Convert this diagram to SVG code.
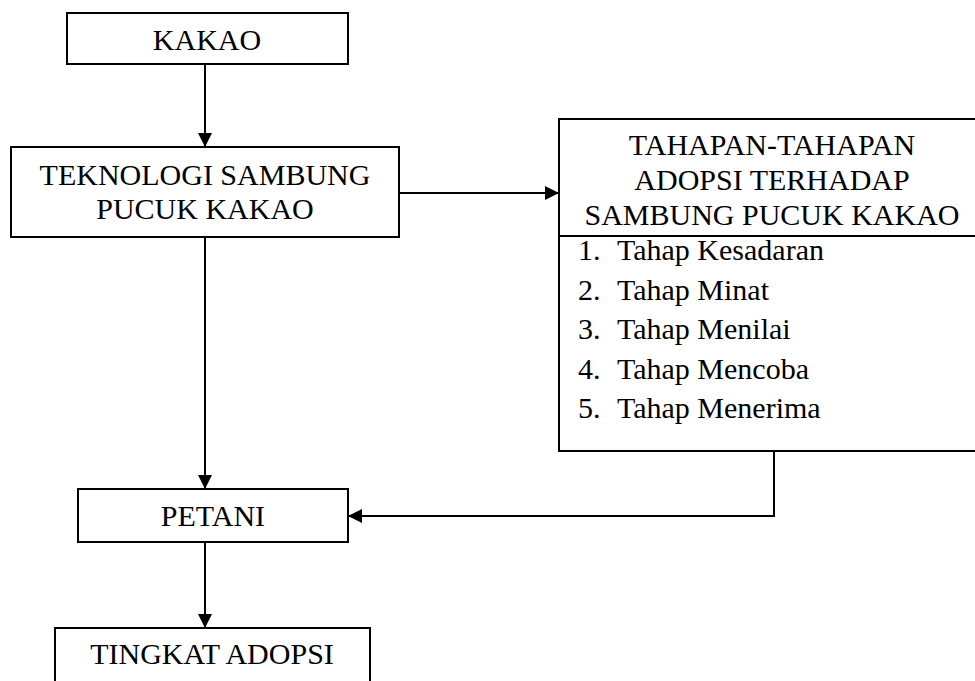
<svg xmlns="http://www.w3.org/2000/svg" width="975" height="681" viewBox="0 0 975 681">
<style>
  .box{fill:#fff;stroke:#000;stroke-width:2}
  .t{font-family:'Liberation Serif','Times New Roman',serif;font-size:30px;fill:#000}
  .c{text-anchor:middle}
  .ln{fill:none;stroke:#000;stroke-width:2}
</style>
<defs>
  <marker id="ah" markerUnits="userSpaceOnUse" markerWidth="16" markerHeight="14" refX="14" refY="7" orient="auto">
    <path d="M0,0 L14,7 L0,14 Z" fill="#000"/>
  </marker>
</defs>
<rect width="975" height="681" fill="#fff"/>
<g id="connectors">
  <line class="ln" x1="205" y1="64" x2="205" y2="147" marker-end="url(#ah)"/>
  <line class="ln" x1="399" y1="193" x2="559" y2="193" marker-end="url(#ah)"/>
  <line class="ln" x1="205" y1="237" x2="205" y2="489" marker-end="url(#ah)"/>
  <polyline class="ln" points="774,451 774,516 348,516" marker-end="url(#ah)"/>
  <line class="ln" x1="205" y1="542" x2="205" y2="628" marker-end="url(#ah)"/>
</g>
<g id="kakao">
  <rect class="box" x="67" y="13" width="281" height="51"/>
  <text class="t c" x="207" y="50">KAKAO</text>
</g>
<g id="teknologi">
  <rect class="box" x="11" y="147" width="388" height="90"/>
  <text class="t c" x="205" y="185">TEKNOLOGI SAMBUNG</text>
  <text class="t c" x="205" y="219">PUCUK KAKAO</text>
</g>
<g id="tahapan">
  <rect class="box" x="559" y="119" width="426" height="332"/>
  <line class="ln" x1="559" y1="236" x2="985" y2="236"/>
  <text class="t c" x="772" y="155">TAHAPAN-TAHAPAN</text>
  <text class="t c" x="772" y="190">ADOPSI TERHADAP</text>
  <text class="t c" x="772" y="225">SAMBUNG PUCUK KAKAO</text>
  <text class="t" x="578" y="260">1.</text><text class="t" x="617" y="260">Tahap Kesadaran</text>
  <text class="t" x="578" y="300">2.</text><text class="t" x="617" y="300">Tahap Minat</text>
  <text class="t" x="578" y="339">3.</text><text class="t" x="617" y="339">Tahap Menilai</text>
  <text class="t" x="578" y="379">4.</text><text class="t" x="617" y="379">Tahap Mencoba</text>
  <text class="t" x="578" y="418">5.</text><text class="t" x="617" y="418">Tahap Menerima</text>
</g>
<g id="petani">
  <rect class="box" x="78" y="489" width="270" height="53"/>
  <text class="t c" x="213" y="526">PETANI</text>
</g>
<g id="tingkat">
  <rect class="box" x="55" y="628" width="315" height="80"/>
  <text class="t c" x="212" y="664">TINGKAT ADOPSI</text>
</g>
</svg>
